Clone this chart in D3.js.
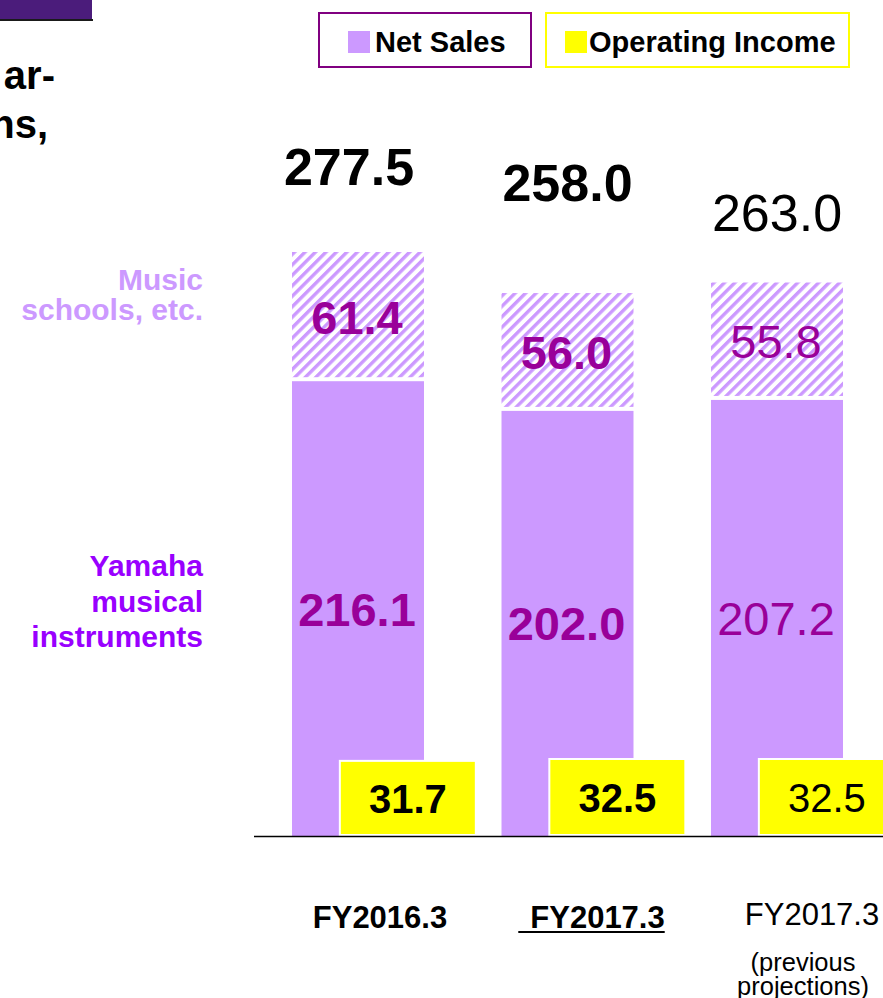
<!DOCTYPE html>
<html>
<head>
<meta charset="utf-8">
<script src="https://cdn.jsdelivr.net/npm/d3@7/dist/d3.min.js"></script>
<style>
  html, body { margin: 0; padding: 0; background: #ffffff; }
  svg { display: block; }
  text { font-family: "Liberation Sans", Arial, Helvetica, sans-serif; }
</style>
</head>
<body>
<svg id="chart" width="883" height="998"></svg>
<script>
// ---- data ----
const categoryKeys   = ["FY2016.3", "FY2017.3", "FY2017.3 prev"];
const categoryLabels = ["FY2016.3", "FY2017.3", "FY2017.3"];
const categorySubLabels = ["", "", "(previous\nprojections)"];
const instruments    = [216.1, 202.0, 207.2];   // Yamaha musical instruments
const schools        = [61.4, 56.0, 55.8];      // Music schools, etc.
const totals         = [277.5, 258.0, 263.0];   // Net sales
const operatingIncome = [31.7, 32.5, 32.5];
const seriesNames    = ["Net Sales", "Operating Income"];

// ---- layout / style (not data) ----
const W = 883, H = 998;
const baseY = 836;
const boldFlags = [true, true, false];
const totalLabelDx = [-8, 1, 1];
const totalLabelDy = [-67, -92, -52];
const catLabelDx = [22, 30, 35];
const catLabelY = [928, 928, 925];

const C = {
  purple: "#CC99FF",
  segText: "#990099",
  yamaha: "#9900FF",
  yellow: "#FFFF00",
  legendPurple: "#800080",
  header: "#4B1C7B"
};

const svg = d3.select("#chart");

// ---- scales ----
const x = d3.scaleBand()
  .domain(categoryKeys)
  .range([292, 843])
  .paddingInner(0.37)
  .paddingOuter(0);

const y = d3.scaleLinear().domain([0, 277.5]).range([baseY, 252]);
const yOI = d3.scaleLinear().domain([0, 32.5]).range([baseY, 760]);

const oiOffset = x.bandwidth() * 0.37;   // yellow bar shifted right
const oiWidth = x.bandwidth() + 2;

// ---- defs: hatch pattern ----
const defs = svg.append("defs");
const pat = defs.append("pattern")
  .attr("id", "hatch")
  .attr("patternUnits", "userSpaceOnUse")
  .attr("width", 7.4).attr("height", 7.4)
  .attr("patternTransform", "rotate(45)");
pat.append("rect").attr("width", 7.4).attr("height", 7.4).attr("fill", "#ffffff");
pat.append("rect").attr("x", 0).attr("y", 0).attr("width", 3.4).attr("height", 7.4).attr("fill", C.purple);

// ---- header decoration top-left ----
svg.append("rect").attr("x", 0).attr("y", 0).attr("width", 92).attr("height", 19).attr("fill", C.header);
svg.append("rect").attr("x", 0).attr("y", 19).attr("width", 93).attr("height", 2).attr("fill", "#1a1a1a");

svg.append("text").attr("x", 55).attr("y", 89).attr("text-anchor", "end")
  .attr("font-size", 40).attr("font-weight", "bold").attr("fill", "#000").text("ar-");
svg.append("text").attr("x", 48).attr("y", 138).attr("text-anchor", "end")
  .attr("font-size", 40).attr("font-weight", "bold").attr("fill", "#000").text("ns,");

// ---- legend ----
const legend = svg.append("g");
legend.append("rect").attr("x", 319).attr("y", 13).attr("width", 212).attr("height", 54)
  .attr("fill", "#fff").attr("stroke", C.legendPurple).attr("stroke-width", 2);
legend.append("rect").attr("x", 348).attr("y", 31).attr("width", 22).attr("height", 22).attr("fill", C.purple);
legend.append("text").attr("x", 375).attr("y", 52).attr("font-size", 29).attr("font-weight", "bold")
  .attr("fill", "#000").text(seriesNames[0]);

legend.append("rect").attr("x", 546).attr("y", 13).attr("width", 303).attr("height", 54)
  .attr("fill", "#fff").attr("stroke", C.yellow).attr("stroke-width", 2);
legend.append("rect").attr("x", 565).attr("y", 31).attr("width", 22).attr("height", 22).attr("fill", C.yellow);
legend.append("text").attr("x", 589).attr("y", 52).attr("font-size", 29).attr("font-weight", "bold")
  .attr("fill", "#000").text(seriesNames[1]);

// ---- data rows ----
const rows = categoryKeys.map((k, i) => ({
  key: k, i,
  instruments: instruments[i],
  schools: schools[i],
  total: totals[i],
  oi: operatingIncome[i]
}));

// instruments (solid) segment
svg.append("g").selectAll("rect").data(rows).join("rect")
  .attr("x", d => x(d.key))
  .attr("y", d => y(d.instruments))
  .attr("width", x.bandwidth())
  .attr("height", d => baseY - y(d.instruments))
  .attr("fill", C.purple);

// schools (hatched) segment
svg.append("g").selectAll("rect").data(rows).join("rect")
  .attr("x", d => x(d.key))
  .attr("y", d => y(d.instruments + d.schools))
  .attr("width", x.bandwidth())
  .attr("height", d => Math.max(0, y(d.instruments) - y(d.instruments + d.schools) - 4))
  .attr("fill", "url(#hatch)");

// operating income (yellow) with white border
const oiG = svg.append("g");
oiG.selectAll("rect.border").data(rows).join("rect").attr("class", "border")
  .attr("x", d => x(d.key) + oiOffset - 2)
  .attr("y", d => yOI(d.oi) - 2)
  .attr("width", oiWidth + 4)
  .attr("height", d => baseY - yOI(d.oi) + 2)
  .attr("fill", "#fff");
oiG.selectAll("rect.bar").data(rows).join("rect").attr("class", "bar")
  .attr("x", d => x(d.key) + oiOffset)
  .attr("y", d => yOI(d.oi))
  .attr("width", oiWidth)
  .attr("height", d => baseY - 2 - yOI(d.oi))
  .attr("fill", C.yellow);

// baseline
svg.append("line").attr("x1", 254).attr("x2", W).attr("y1", baseY + 0.5).attr("y2", baseY + 0.5)
  .attr("stroke", "#000").attr("stroke-width", 1.5);

// ---- labels ----
const fmt = d3.format(".1f");
const cx = d => x(d.key) + x.bandwidth() / 2 - 1;

// totals
svg.append("g").selectAll("text").data(rows).join("text")
  .attr("x", d => cx(d) + totalLabelDx[d.i])
  .attr("y", d => y(d.total) + totalLabelDy[d.i])
  .attr("text-anchor", "middle")
  .attr("font-size", 52)
  .attr("font-weight", d => boldFlags[d.i] ? "bold" : "normal")
  .attr("fill", "#000")
  .text(d => fmt(d.total));

// schools labels
svg.append("g").selectAll("text").data(rows).join("text")
  .attr("x", cx)
  .attr("y", d => (y(d.instruments) + y(d.instruments + d.schools)) / 2 + 17)
  .attr("text-anchor", "middle")
  .attr("font-size", 47)
  .attr("font-weight", d => boldFlags[d.i] ? "bold" : "normal")
  .attr("fill", C.segText)
  .text(d => fmt(d.schools));

// instruments labels
svg.append("g").selectAll("text").data(rows).join("text")
  .attr("x", cx)
  .attr("y", d => (y(d.instruments) + baseY) / 2 + 17)
  .attr("text-anchor", "middle")
  .attr("font-size", 47)
  .attr("font-weight", d => boldFlags[d.i] ? "bold" : "normal")
  .attr("fill", C.segText)
  .text(d => fmt(d.instruments));

// operating income labels
svg.append("g").selectAll("text").data(rows).join("text")
  .attr("x", d => x(d.key) + oiOffset + oiWidth / 2)
  .attr("y", d => (yOI(d.oi) + baseY - 2) / 2 + 15)
  .attr("text-anchor", "middle")
  .attr("font-size", 40)
  .attr("font-weight", d => boldFlags[d.i] ? "bold" : "normal")
  .attr("fill", "#000")
  .text(d => fmt(d.oi));

// category labels
const catG = svg.append("g");
rows.forEach(d => {
  const t = catG.append("text")
    .attr("x", x(d.key) + x.bandwidth() / 2 + catLabelDx[d.i])
    .attr("y", catLabelY[d.i])
    .attr("text-anchor", "middle")
    .attr("font-size", 31)
    .attr("font-weight", boldFlags[d.i] ? "bold" : "normal")
    .attr("fill", "#000")
    .text(categoryLabels[d.i]);
  if (d.i === 1) {
    const bb = t.node().getBBox();
    catG.append("line")
      .attr("x1", bb.x - 12).attr("x2", bb.x + bb.width)
      .attr("y1", catLabelY[d.i] + 4).attr("y2", catLabelY[d.i] + 4)
      .attr("stroke", "#000").attr("stroke-width", 2);
  }
  const sub = categorySubLabels[d.i];
  if (sub) {
    sub.split("\n").forEach((line, j) => {
      catG.append("text")
        .attr("x", x(d.key) + x.bandwidth() / 2 + 26)
        .attr("y", 971 + j * 24)
        .attr("text-anchor", "middle")
        .attr("font-size", 25.5)
        .attr("fill", "#000")
        .text(line);
    });
  }
});

// left-side series labels
const leftG = svg.append("g").attr("font-weight", "bold").attr("font-size", 30).attr("text-anchor", "end");
["Music", "schools, etc."].forEach((s, j) => {
  leftG.append("text").attr("x", 203).attr("y", 290 + j * 30).attr("fill", C.purple).text(s);
});
["Yamaha", "musical", "instruments"].forEach((s, j) => {
  leftG.append("text").attr("x", 203).attr("y", 576 + j * 35.5).attr("fill", C.yamaha).text(s);
});
</script>
</body>
</html>
